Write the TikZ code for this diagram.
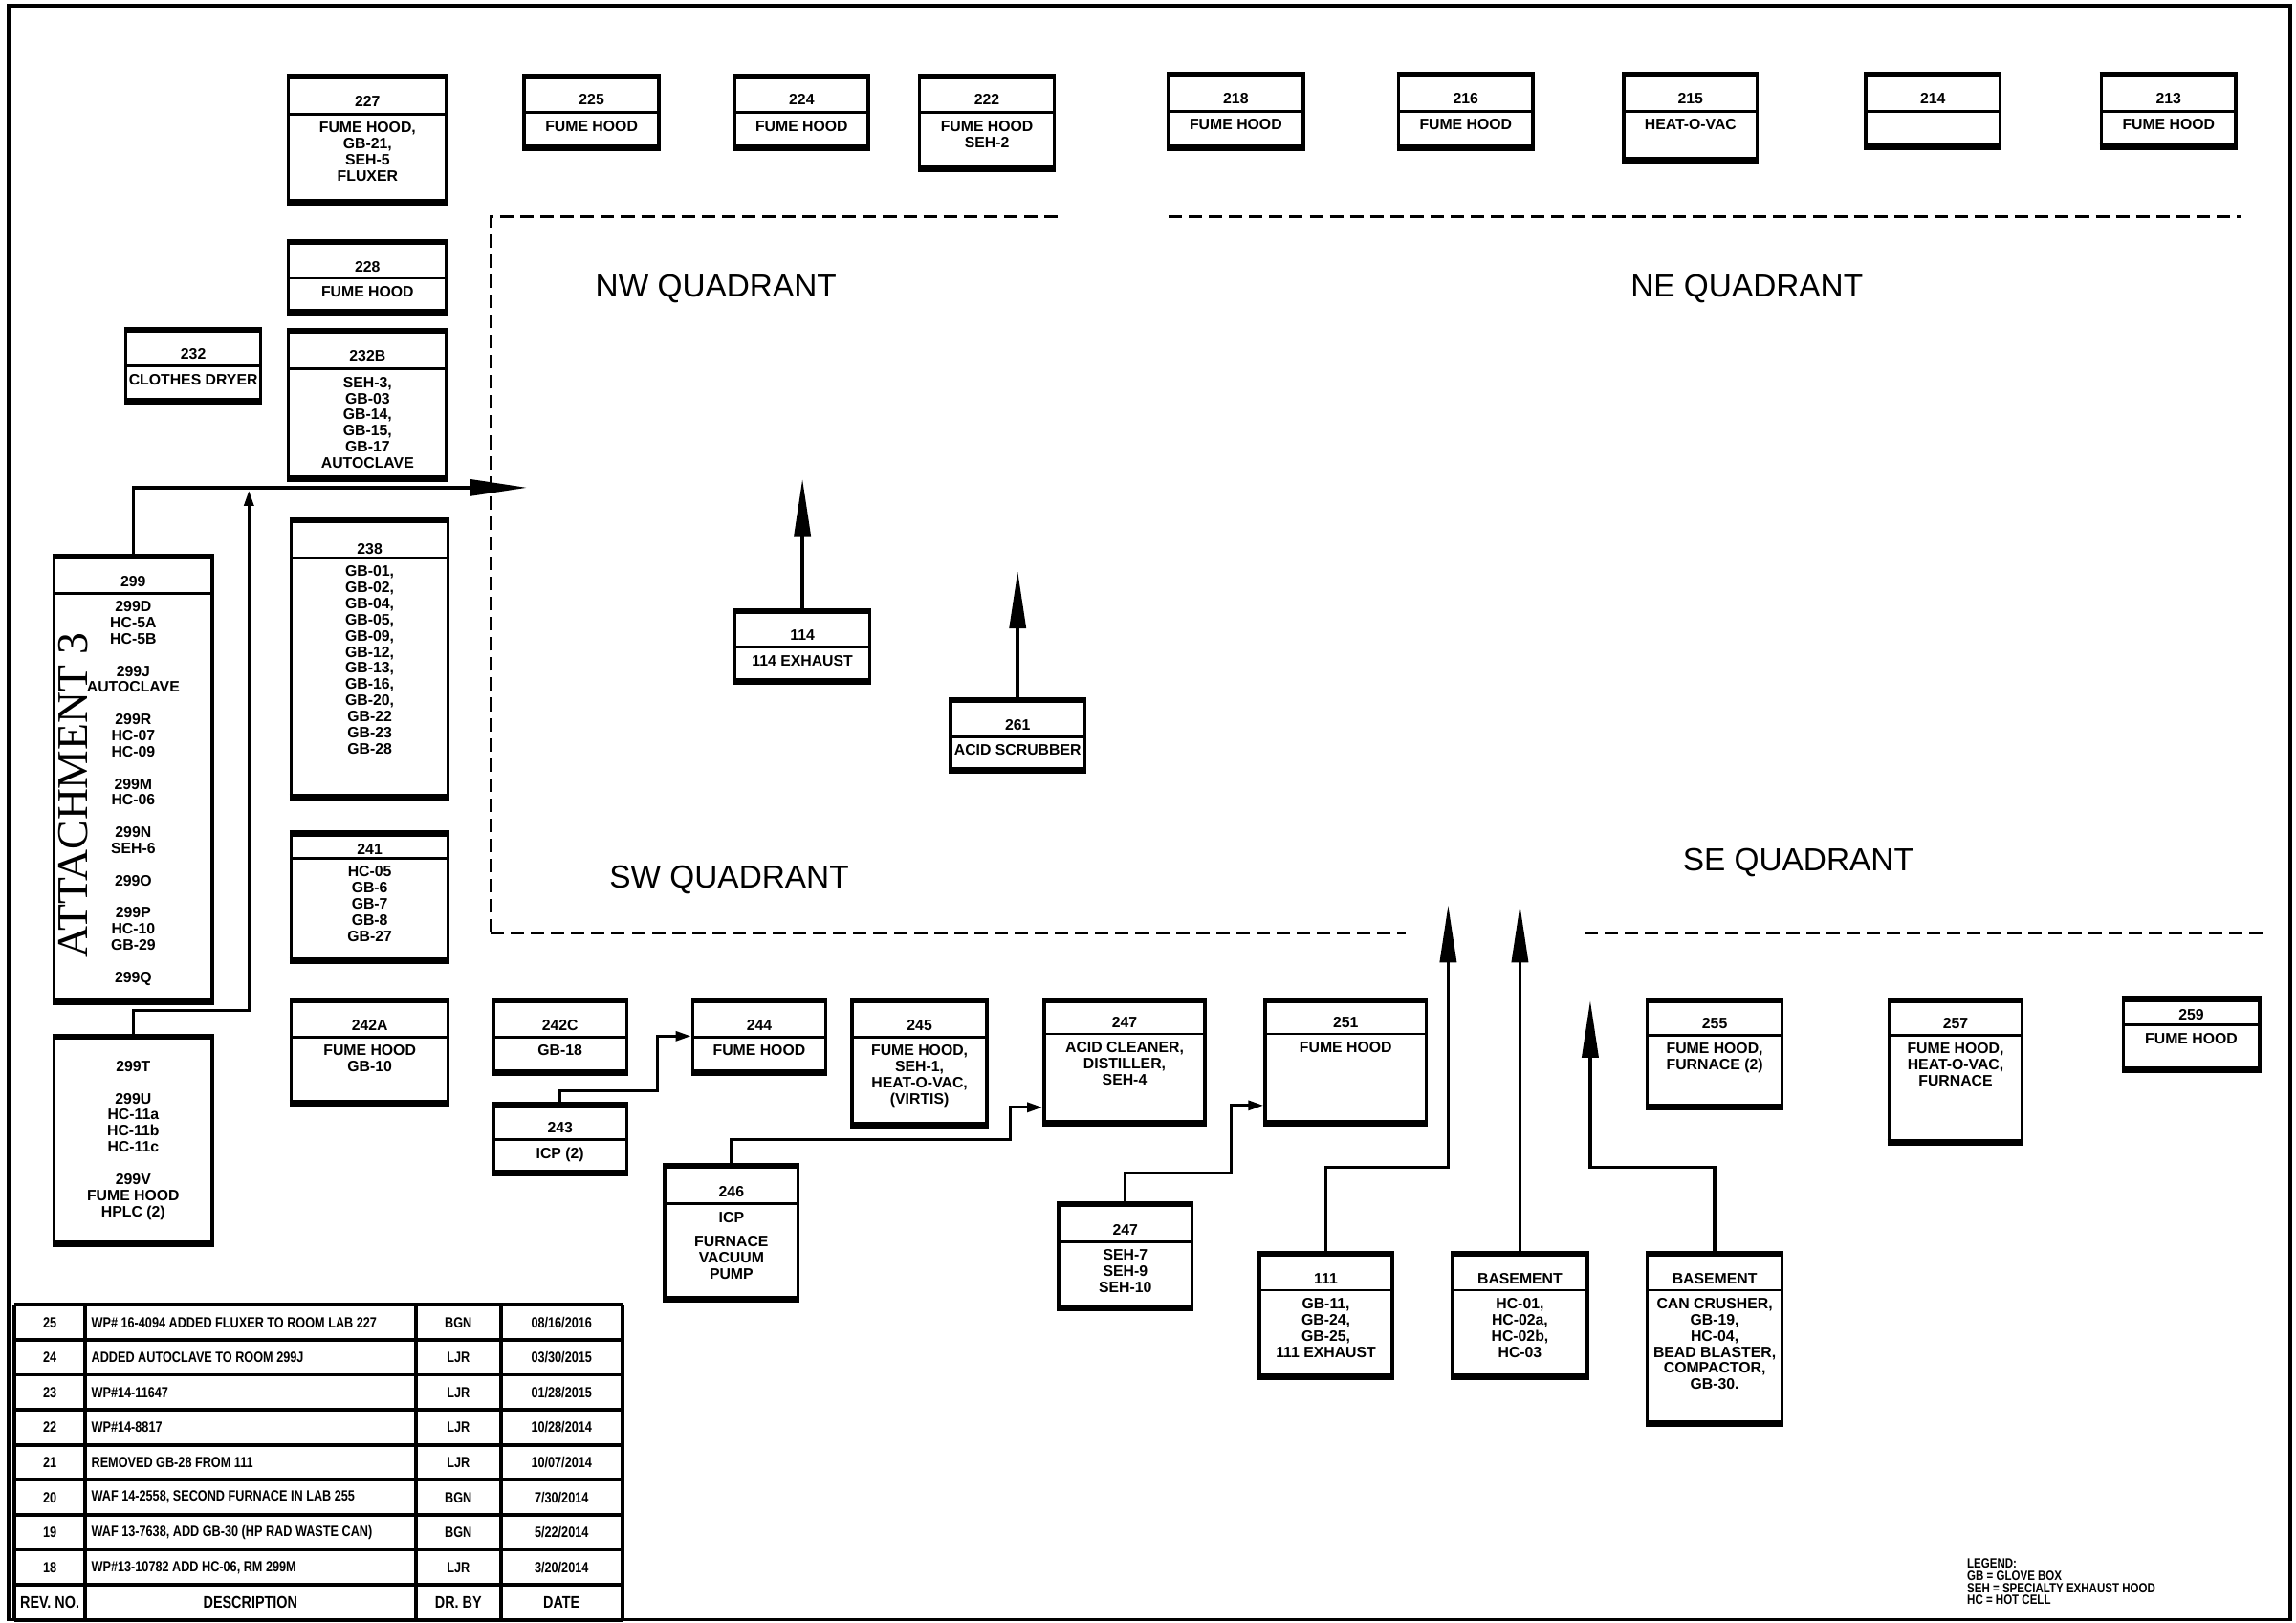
\documentclass[tikz,border=0pt]{standalone}
\usepackage{fontspec}
\setmainfont{Liberation Sans}
\newfontfamily\cadfont{Liberation Sans}
\newfontfamily\condfont{Liberation Sans}[FakeStretch=0.82]
\newfontfamily\serifatt{Liberation Serif}
\usetikzlibrary{arrows.meta,fit}
\tikzset{
  boxfr/.style={draw, line width=1pt, inner sep=0pt},
  boxdiv/.style={line width=0.8pt},
  numtxt/.style={font=\cadfont\bfseries\fontsize{4.5}{4.8}\selectfont, inner sep=0pt},
  bodytxt/.style={font=\cadfont\bfseries\fontsize{4.5}{4.8}\selectfont, inner sep=0pt, align=center},
  bigarrow/.style={line width=1pt, -{Triangle[length=0.6cm,width=0.17cm]}},
  smallarrow/.style={line width=0.9pt, -{Triangle[length=0.16cm,width=0.1cm]}},
  quad/.style={dash pattern=on 4pt off 2pt, line width=0.8pt},
  quadlbl/.style={font=\fontsize{9.5}{10}\selectfont, inner sep=0pt},
  tabline/.style={line width=1.1pt},
  tabtxt/.style={font=\condfont\bfseries\fontsize{4.4}{4.6}\selectfont, inner sep=0pt},
  tabhead/.style={font=\condfont\bfseries\fontsize{5}{5.2}\selectfont, inner sep=0pt},
  legtxt/.style={font=\condfont\bfseries\fontsize{4}{3.6}\selectfont, inner sep=0pt, align=left}
}
% #1 name, #2 x1, #3 y1, #4 x2, #5 y2, #6 divider y, #7 number y, #8 number, #9 content
\newcommand\roombox[9]{%
  \node[boxfr, fit={(#2,#3) (#4,#5)}] (#1) {};
  \draw[line width=1.5pt] (#1.north west) -- (#1.north east);
  \draw[line width=2pt] (#1.south west) -- (#1.south east);
  \draw[boxdiv] (#2,#6) -- (#4,#6);
  \node[numtxt] (#1n) at ({(#2+#4)/2},{#7+1}) {#8};
  \node[bodytxt, anchor=north] (#1c) at ({(#2+#4)/2},{#6+5}) {#9};
}
\newcommand\revrow[5]{%
  \node[tabtxt] (rv#1a) at (34,{891+23.9*#1+12}) {#2};
  \node[tabtxt, anchor=west] (rv#1b) at (62,{891+23.9*#1+12}) {#3};
  \node[tabtxt] (rv#1c) at (313,{891+23.9*#1+12}) {#4};
  \node[tabtxt] (rv#1d) at (383.5,{891+23.9*#1+12}) {#5};
}
\begin{document}
\begin{tikzpicture}[x=0.015313cm, y=-0.015313cm]
\useasboundingbox (0,0) rectangle (1568,1108);
\draw[line width=1pt] (6,4) rectangle (1564,1106);

% top row
\roombox{r227}{197}{53}{305}{137}{78}{68}{227}{FUME HOOD,\\GB-21,\\SEH-5\\FLUXER}
\roombox{r225}{358}{53}{450}{100}{77}{67}{225}{FUME HOOD}
\roombox{r224}{502}{53}{593}{100}{77}{67}{224}{FUME HOOD}
\roombox{r222}{628}{53}{720}{114}{77}{67}{222}{FUME HOOD\\SEH-2}
\roombox{r218}{798}{52}{890}{100}{76}{66}{218}{FUME HOOD}
\roombox{r216}{955}{52}{1047}{100}{76}{66}{216}{FUME HOOD}
\roombox{r215}{1109}{52}{1200}{108}{76}{66}{215}{HEAT-O-VAC}
\roombox{r214}{1274}{52}{1366}{99}{76}{66}{214}{}
\roombox{r213}{1435}{52}{1527}{99}{76}{66}{213}{FUME HOOD}

% left column
\roombox{r228}{197}{166}{305}{212}{190}{181}{228}{FUME HOOD}
\roombox{r232}{86}{226}{178}{273}{250}{241}{232}{CLOTHES DRYER}
\roombox{r232B}{197}{227}{305}{326}{252}{242}{232B}{SEH-3,\\GB-03\\GB-14,\\GB-15,\\GB-17\\AUTOCLAVE}
\roombox{r299}{37}{381}{145}{683}{405}{396}{299}{299D\\HC-5A\\HC-5B\\[4.8pt]299J\\AUTOCLAVE\\[4.8pt]299R\\HC-07\\HC-09\\[4.8pt]299M\\HC-06\\[4.8pt]299N\\SEH-6\\[4.8pt]299O\\[4.8pt]299P\\HC-10\\GB-29\\[4.8pt]299Q}
\node[boxfr, fit={(37,709) (145,848)}] (r299T) {};
\draw[line width=1.5pt] (r299T.north west) -- (r299T.north east);
\draw[line width=2pt] (r299T.south west) -- (r299T.south east);
\node[bodytxt, anchor=north] (r299Tc) at (91,724) {299T\\[4.8pt]299U\\HC-11a\\HC-11b\\HC-11c\\[4.8pt]299V\\FUME HOOD\\HPLC (2)};
\roombox{r238}{199}{356}{306}{543}{381}{374}{238}{GB-01,\\GB-02,\\GB-04,\\GB-05,\\GB-09,\\GB-12,\\GB-13,\\GB-16,\\GB-20,\\GB-22\\GB-23\\GB-28}
\roombox{r241}{199}{570}{306}{655}{586}{579}{241}{HC-05\\GB-6\\GB-7\\GB-8\\GB-27}

% middle
\roombox{r114}{502}{418}{594}{464}{442}{433}{114}{114 EXHAUST}
\roombox{r261}{649}{479}{741}{525}{503}{494}{261}{ACID SCRUBBER}

% bottom
\roombox{r242A}{199}{684}{306}{752}{708}{699}{242A}{FUME HOOD\\GB-10}
\roombox{r242C}{337}{684}{428}{731}{708}{699}{242C}{GB-18}
\roombox{r243}{337}{755}{428}{800}{778}{769}{243}{ICP (2)}
\roombox{r244}{473}{684}{564}{731}{708}{699}{244}{FUME HOOD}
\roombox{r245}{582}{684}{674}{767}{708}{699}{245}{FUME HOOD,\\SEH-1,\\HEAT-O-VAC,\\(VIRTIS)}
\roombox{r246}{454}{797}{545}{886}{822}{813}{246}{ICP\\[2.5pt]FURNACE\\VACUUM\\PUMP}
\roombox{r247}{713}{684}{823}{766}{706}{697}{247}{ACID CLEANER,\\DISTILLER,\\SEH-4}
\roombox{r251}{864}{684}{974}{766}{706}{697}{251}{FUME HOOD}
\roombox{r247b}{723}{823}{814}{892}{848}{839}{247}{SEH-7\\SEH-9\\SEH-10}
\roombox{r111}{860}{857}{951}{939}{881}{872}{111}{GB-11,\\GB-24,\\GB-25,\\111 EXHAUST}
\roombox{rB1}{992}{857}{1084}{939}{881}{872}{BASEMENT}{HC-01,\\HC-02a,\\HC-02b,\\HC-03}
\roombox{rB2}{1125}{857}{1217}{971}{881}{872}{BASEMENT}{CAN CRUSHER,\\GB-19,\\HC-04,\\BEAD BLASTER,\\COMPACTOR,\\GB-30.}
\roombox{r255}{1125}{684}{1217}{755}{707}{698}{255}{FUME HOOD,\\FURNACE (2)}
\roombox{r257}{1290}{684}{1381}{779}{707}{698}{257}{FUME HOOD,\\HEAT-O-VAC,\\FURNACE}
\roombox{r259}{1450}{683}{1543}{729}{700}{692}{259}{FUME HOOD}

% quadrant lines
\draw[quad] (335,637) -- (335,148) -- (724,148);
\draw[quad] (798,148) -- (1530,148);
\draw[quad] (335,637) -- (960,637);
\draw[quad] (1082,637) -- (1548,637);
\node[quadlbl] (nwq) at (489,197) {NW QUADRANT};
\node[quadlbl] (neq) at (1193,197) {NE QUADRANT};
\node[quadlbl] (swq) at (498,601) {SW QUADRANT};
\node[quadlbl] (seq) at (1228,589) {SE QUADRANT};

\node[font=\serifatt\fontsize{13}{13}\selectfont, rotate=90, inner sep=0pt] (att) at (50,543) {ATTACHMENT 3};

% connectors
\coordinate (t299) at (360,333);
\draw[bigarrow] (r299.north) |- (t299);
\coordinate (k299T) at (170,690);
\coordinate (t299T) at (170,335);
\draw[smallarrow] (r299T.north) |- (k299T) -- (t299T);
\coordinate (t114) at (548,327);
\draw[bigarrow] (r114.north) -- (t114);
\coordinate (t261) at (695,390);
\draw[bigarrow] (r261.north) -- (t261);
\coordinate (k243) at (449,745);
\draw[smallarrow] (r243.north) |- (k243) |- (r244.west);
\coordinate (k246) at (690,778);
\draw[smallarrow] (r246.north) |- (k246) |- (r247.209);
\coordinate (k247b) at (841,801);
\draw[smallarrow] (r247b.north) |- (k247b) |- (r251.208);
\coordinate (k111) at (989,797);
\coordinate (t111) at (989,618);
\draw[bigarrow] (r111.north) |- (k111) -- (t111);
\coordinate (tB1) at (1038,618);
\draw[bigarrow] (rB1.north) -- (tB1);
\coordinate (kB2) at (1086,797);
\coordinate (tB2) at (1086,683);
\draw[bigarrow] (rB2.north) |- (kB2) -- (tB2);

% revision table
\foreach \k in {0,...,9} \draw[tabline] (10,{891+23.9*\k}) -- (425,{891+23.9*\k});
\foreach \xx in {10,58,284,342,425} \draw[tabline] (\xx,891) -- (\xx,1106);
\revrow{0}{25}{WP\# 16-4094 ADDED FLUXER TO ROOM LAB 227}{BGN}{08/16/2016}
\revrow{1}{24}{ADDED AUTOCLAVE TO ROOM 299J}{LJR}{03/30/2015}
\revrow{2}{23}{WP\#14-11647}{LJR}{01/28/2015}
\revrow{3}{22}{WP\#14-8817}{LJR}{10/28/2014}
\revrow{4}{21}{REMOVED GB-28 FROM 111}{LJR}{10/07/2014}
\revrow{5}{20}{WAF 14-2558, SECOND FURNACE IN LAB 255}{BGN}{7/30/2014}
\revrow{6}{19}{WAF 13-7638, ADD GB-30 (HP RAD WASTE CAN)}{BGN}{5/22/2014}
\revrow{7}{18}{WP\#13-10782 ADD HC-06, RM 299M}{LJR}{3/20/2014}
\node[tabhead] (hd1) at (34,{891+23.9*8+12}) {REV. NO.};
\node[tabhead] (hd2) at (171,{891+23.9*8+12}) {DESCRIPTION};
\node[tabhead] (hd3) at (313,{891+23.9*8+12}) {DR. BY};
\node[tabhead] (hd4) at (383.5,{891+23.9*8+12}) {DATE};

% legend
\node[legtxt, anchor=north west] (leg) at (1343,1064) {LEGEND:\\GB = GLOVE BOX\\SEH = SPECIALTY EXHAUST HOOD\\HC = HOT CELL};
\end{tikzpicture}
\end{document}
